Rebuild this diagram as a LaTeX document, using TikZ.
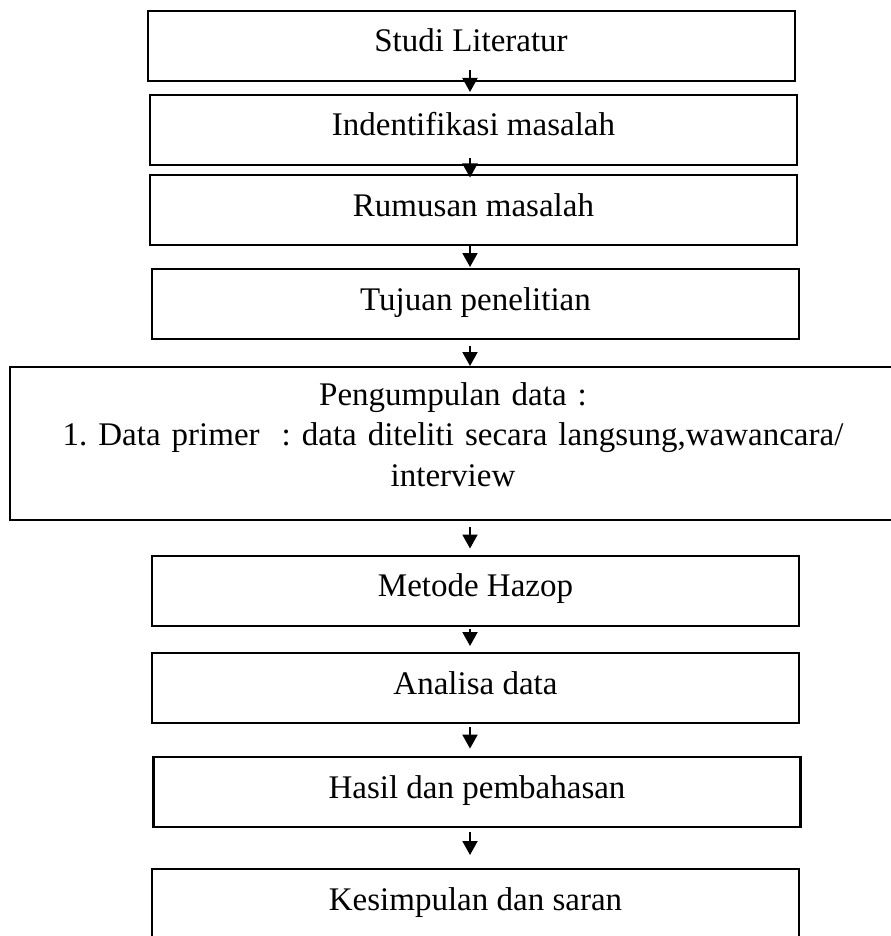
\documentclass[tikz,border=0pt]{standalone}
\usepackage{fontspec}
\setmainfont{Liberation Serif}
\usepackage{tikz}
\usetikzlibrary{arrows.meta}
\frenchspacing

\begin{document}
\begin{tikzpicture}[x=0.5pt,y=-0.5pt,
    every node/.style={font=\fontsize{16.5}{20.25}\selectfont},
    stage/.style={draw,line width=1pt,inner sep=0pt,minimum width=323.5pt,minimum height=35pt,
                  text height=20.5pt,text depth=14.5pt},
    flow/.style={line width=1pt,-{Triangle[length=7pt,width=7.5pt]}}]
            \useasboundingbox (0,0) rectangle (890,936);
            \coordinate (axis) at (470,0);
            \node[stage] (lit)   at (471,46)    {Studi Literatur};
            \node[stage] (ident) at (473.5,130) {Indentifikasi masalah};
            \node[stage] (rumus) at (473.5,210.5) {Rumusan masalah};
            \node[stage] (tuju)  at (475.5,304) {Tujuan penelitian};
            \node[stage,minimum width=443pt,text width=443pt,align=center,
                  minimum height=76.5pt,text height=19pt,text depth=57.5pt] (kumpul) at (453,443.5)
                  {Pengumpulan data :\\
                   \mbox{1. Data primer\hspace{11pt}: data diteliti secara langsung,wawancara/}\\
                   interview};
            \node[stage] (hazop) at (475.5,590.5) {Metode Hazop};
            \node[stage] (anal)  at (475.5,688)   {Analisa data};
            \node[stage,line width=1.4pt] (hasil) at (477,792) {Hasil dan pembahasan};
            \node[stage] (simpul) at (475.5,904)  {Kesimpulan dan saran};
            \draw[flow] ([yshift=6pt]lit.south -| axis) -- ([yshift=1pt]ident.north -| axis);
            \draw[flow] ([yshift=4pt]ident.south -| axis) -- ([yshift=-1.5pt]rumus.north -| axis);
            \draw[flow] (rumus.south -| axis) -- ([yshift=0.5pt]tuju.north -| axis);
            \draw[flow] ([yshift=-3pt]tuju.south -| axis) -- (kumpul.north -| axis);
            \draw[flow] ([yshift=-3pt]kumpul.south -| axis) -- ([yshift=3pt]hazop.north -| axis);
            \draw[flow] ([yshift=-1pt]hazop.south -| axis) -- ([yshift=3pt]anal.north -| axis);
            \draw[flow] ([yshift=-1.5pt]anal.south -| axis) -- ([yshift=3.5pt]hasil.north -| axis);
            \draw[flow] ([yshift=-2pt]hasil.south -| axis) -- ([yshift=6.5pt]simpul.north -| axis);
        \end{tikzpicture}
\end{document}
